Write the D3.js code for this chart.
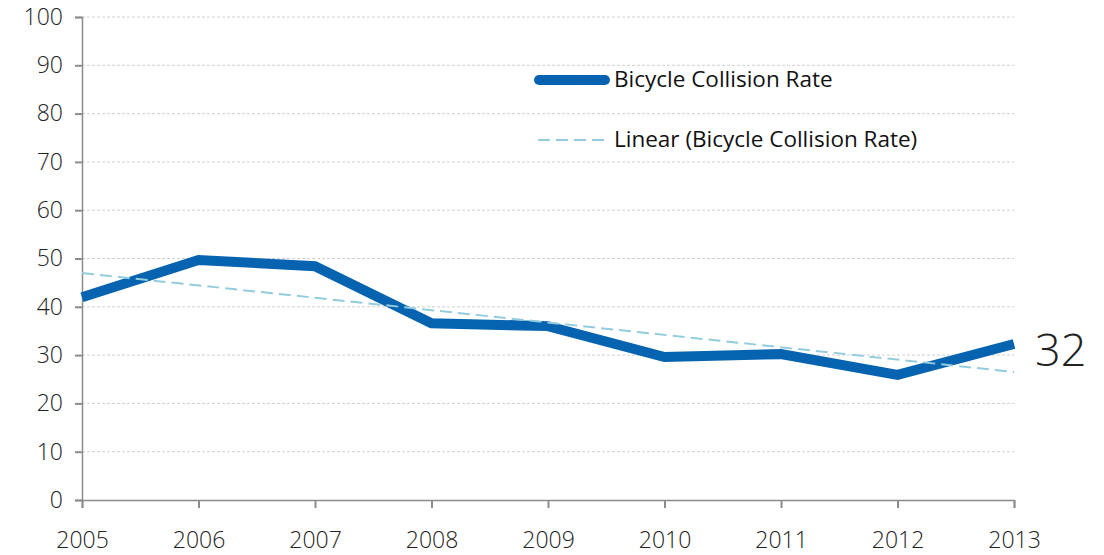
<!DOCTYPE html>
<html>
<head>
<meta charset="utf-8">
<script src="https://cdn.jsdelivr.net/npm/d3@7"></script>
<style>
  body { margin: 0; background: #fff; }
  text { font-family: "Open Sans", "Noto Sans", sans-serif; fill: #222; font-weight: 300; }
  .legend text { font-weight: 400; fill: #111; }
</style>
</head>
<body>
<svg width="1104" height="555"></svg>
<script>
var years = [2005, 2006, 2007, 2008, 2009, 2010, 2011, 2012, 2013];
var rates = [42.0, 49.7, 48.4, 36.6, 36.0, 29.6, 30.2, 25.9, 32.3];
var yTicks = [0, 10, 20, 30, 40, 50, 60, 70, 80, 90, 100];
var seriesName = 'Bicycle Collision Rate';
var trendName = 'Linear (Bicycle Collision Rate)';
var lastLabel = '32';

var svg = d3.select('svg');
var x = d3.scaleLinear().domain([2005, 2013]).range([82, 1014]);
var y = d3.scaleLinear().domain([0, 100]).range([500, 17]);

// gridlines
svg.append('g').selectAll('line')
  .data(yTicks.slice(1))
  .enter().append('line')
  .attr('x1', x(2005)).attr('x2', x(2013))
  .attr('y1', function(d){ return y(d); })
  .attr('y2', function(d){ return y(d); })
  .attr('stroke', '#d0d0d0').attr('stroke-width', 1)
  .attr('stroke-dasharray', '3,2');

// y axis
var yAxis = svg.append('g')
  .attr('transform', 'translate(' + x(2005) + ',0)')
  .call(d3.axisLeft(y).tickValues(yTicks).tickSize(7).tickPadding(12));
yAxis.selectAll('text').style('font-size', '23px').attr('fill', '#222');

// x axis
var xAxis = svg.append('g')
  .attr('transform', 'translate(0,' + y(0) + ')')
  .call(d3.axisBottom(x).tickValues(years).tickFormat(d3.format('d')).tickSize(8).tickPadding(24));
xAxis.selectAll('text').style('font-size', '23px').attr('fill', '#222');

svg.selectAll('.domain, .tick line').attr('stroke', '#8c8c8c').attr('stroke-width', 2);
svg.selectAll('.domain').attr('stroke-width', 1.5);

// linear trend
var n = years.length;
var mx = d3.mean(years), my = d3.mean(rates);
var num = 0, den = 0;
for (var i = 0; i < n; i++) {
  num += (years[i] - mx) * (rates[i] - my);
  den += (years[i] - mx) * (years[i] - mx);
}
var slope = num / den, icpt = my - slope * mx;

var line = d3.line()
  .x(function(d){ return x(d[0]); })
  .y(function(d){ return y(d[1]); });

svg.append('path')
  .datum(years.map(function(yr, i){ return [yr, rates[i]]; }))
  .attr('d', line)
  .attr('fill', 'none')
  .attr('stroke', '#0563b0')
  .attr('stroke-width', 10)
  .attr('stroke-linejoin', 'miter');

svg.append('path')
  .datum([[2005, icpt + slope * 2005], [2013, icpt + slope * 2013]])
  .attr('d', line)
  .attr('fill', 'none')
  .attr('stroke', '#93cddd')
  .attr('stroke-width', 2)
  .attr('stroke-dasharray', '12,6');

// last value label
svg.append('text')
  .attr('x', 1035).attr('y', 366)
  .style('font-size', '45px')
  .attr('fill', '#000')
  .text(lastLabel);

// legend
var lg = svg.append('g').attr('class', 'legend');
lg.append('line')
  .attr('x1', 539).attr('x2', 605).attr('y1', 80).attr('y2', 80)
  .attr('stroke', '#0563b0').attr('stroke-width', 10).attr('stroke-linecap', 'round');
lg.append('text').attr('x', 614).attr('y', 87).style('font-size', '22.5px').text(seriesName);
lg.append('line')
  .attr('x1', 538).attr('x2', 607).attr('y1', 140).attr('y2', 140)
  .attr('stroke', '#93cddd').attr('stroke-width', 2).attr('stroke-dasharray', '12,6');
lg.append('text').attr('x', 614).attr('y', 147).style('font-size', '22.5px').text(trendName);
</script>
</body>
</html>
